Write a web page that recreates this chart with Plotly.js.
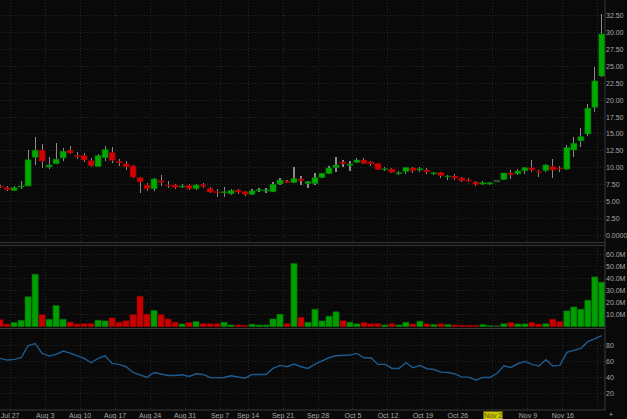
<!DOCTYPE html>
<html><head><meta charset="utf-8">
<script src="https://cdn.plot.ly/plotly-3.0.1.min.js"></script>
<style>html,body{margin:0;padding:0;background:#090909;overflow:hidden}#chart{width:627px;height:419px;}</style>
</head><body><div id="chart"></div>
<script>
// ---- data (one entry per trading day) ----
const openP  = [7.3,7.05,6.65,7.15,7.3,11.55,12.6,10.1,10.6,11.45, 12.6,11.85,11.8,11.05,10.2,11.5,12.25,10.95,10.6,10.25, 8.53,7.44,6.9,8.08,7.44,7.44,7.15,7.4,6.9,7.5, 6.95,6.45,6.3,6.15,6.7,6.45,6.1,6.6,6.55,6.45, 7.59,8.03,7.83,8.33,7.69,7.69,8.57,9.17,10.05,10.84, 10.35,10.8,11.14,10.84,10.65,9.71,9.81,9.12,9.46,9.96, 9.66,9.66,9.1,9.3,8.67,8.77,8.48,8.18,7.88,7.59, 7.59,7.88,8.28,9.22,9.12,9.56,10.0,9.41,9.61,10.2, 9.96,9.8,12.62,14.0,15.0,18.94,23.58];
const highP  = [7.4,7.25,7.25,8.1,12.6,14.55,13.5,11.55,13.7,12.9, 13.2,12.3,12.2,11.45,12.0,13.2,13.0,11.3,10.95,10.35, 8.68,7.74,8.48,8.92,8.08,7.6,7.6,7.64,7.64,7.74, 7.2,6.85,7.2,6.8,6.9,6.55,6.8,6.95,6.95,7.95, 8.43,8.2,10.05,8.77,8.08,9.27,9.27,10.25,11.53,11.14, 10.99,11.49,11.39,11.04,10.75,10.05,9.91,9.46,10.15,10.1, 10.1,9.91,9.41,9.43,8.95,9.07,8.67,8.53,8.03,8.03, 7.93,8.25,9.3,9.61,9.81,10.15,11.09,9.71,10.55,11.24, 10.2,13.37,14.6,15.93,19.4,24.86,32.7];
const lowP   = [7.05,6.5,6.5,6.85,7.3,10.45,9.95,9.85,10.5,10.95, 12.0,11.25,10.85,10.05,10.1,10.95,10.65,10.3,9.7,8.53, 6.26,6.5,6.5,7.24,7.0,6.9,7.0,6.75,6.75,7.0, 6.2,5.7,5.7,6.0,6.1,5.85,5.95,6.45,6.2,6.35, 7.44,7.7,7.69,7.44,6.95,7.44,8.43,9.02,9.41,10.05, 9.56,10.75,10.5,10.25,9.66,9.51,9.17,8.87,9.02,9.17, 9.41,9.05,8.9,8.5,8.2,8.2,7.83,7.83,7.3,7.44, 7.44,7.85,8.2,8.28,8.92,9.02,9.41,8.67,9.41,8.43, 9.32,9.65,11.63,13.12,14.7,18.3,23.4];
const closeP = [7.15,6.75,7.05,7.3,11.2,12.6,11.0,10.4,11.25,12.43, 12.2,11.65,11.15,10.3,11.8,12.7,11.1,10.75,10.15,8.63, 7.93,6.9,8.33,7.84,7.34,7.1,7.3,6.9,7.44,7.25, 6.4,6.3,6.45,6.65,6.4,6.1,6.6,6.75,6.7,7.55, 8.18,7.83,8.43,8.08,7.93,8.53,9.17,9.96,10.4,10.6, 10.55,11.14,10.65,10.6,9.76,9.86,9.32,9.27,10.05,9.56, 9.86,9.4,9.27,8.85,8.8,8.48,8.08,8.03,7.54,7.79, 7.79,8.18,9.22,8.97,9.51,10.0,9.66,9.32,10.4,9.66, 9.86,13.0,13.62,14.6,18.8,22.84,29.79];
const volumeM = [6.0,2.1,3.5,5.4,24.9,43.7,10.1,6.2,17.7,6.2, 4.0,2.4,2.6,2.6,5.4,4.9,7.4,3.8,5.1,10.1, 25.4,10.4,13.5,10.1,6.5,3.8,2.4,3.5,4.3,2.6, 2.6,2.6,3.8,1.5,1.5,1.2,2.1,1.5,1.5,6.5, 10.4,2.6,52.6,7.9,3.8,14.6,4.9,8.75,12.4,5.1, 3.8,2.4,3.5,2.6,2.6,1.5,2.6,1.5,3.8,2.4, 4.6,2.4,1.8,2.6,1.8,1.5,1.2,1.2,1.2,1.8, 0.9,1.0,2.6,3.5,2.4,2.4,3.5,2.1,2.6,6.2, 4.3,13.2,16.5,14.6,22.1,41.5,37.1];
const rsi = [64.2,62.1,63,65,80,82.5,70.4,67.1,69.2,73.3, 70.8,67.9,64.2,58.8,64.2,67.5,57.9,56.7,53.8,46.7, 43.4,40.5,46.7,45,42.9,42.9,43.8,41.7,45,44.2, 40.5,40,40.5,42.5,40.9,39.6,44.2,44.2,44.2,51.7, 55.5,53.8,57.1,53.8,51.7,57.1,60.9,65,67.5,68.4, 68.4,70.4,65,65,56.7,57.1,51.7,51.7,58.8,52.5, 55.5,51.3,50.4,47.1,46.7,45,40.9,40.9,37.1,40.5, 40.5,45.4,55,52.9,57.5,60.4,56.7,54.6,62.5,54.6, 55.5,71.7,73.8,76.7,85,89.2,92.5];
// weekly date labels and the trading-day index of each labelled week
const weekLabels = ['Jul 27','Aug 3','Aug 10','Aug 17','Aug 24','Aug 31','Sep 7','Sep 14','Sep 21','Sep 28','Oct 5','Oct 12','Oct 19','Oct 26','Nov 2','Nov 9','Nov 16','Nov 23'];
const weekBars   = [2,7,12,17,22,27,32,36,41,46,51,56,61,66,71,76,81,86];
const priceTicks = [0,2.5,5,7.5,10,12.5,15,17.5,20,22.5,25,27.5,30,32.5];
const volTicks = [10,20,30,40,50,60];
const rsiTicks = [20,40,60,80];
const selectedBar = 71;  // highlighted (Nov 2)

// ---- build ----
const idx = openP.map((_, i) => i);
const isUp = idx.map(i => closeP[i] >= openP[i]);
const G = '#00a800', GE = '#007a00', R = '#d20000', RE = '#8e0000', SEL = '#2e5a2e', SELE='#1f3d1f';
const bodyCol = idx.map(i => i === selectedBar ? SEL : (isUp[i] ? G : R));
const bodyEdge = idx.map(i => i === selectedBar ? SELE : (isUp[i] ? GE : RE));
const volCol = idx.map(i => i === selectedBar ? SEL : (isUp[i] ? '#009e00' : '#c80000'));
const volEdge = idx.map(i => i === selectedBar ? SELE : (isUp[i] ? '#006e00' : '#8a0000'));

const wicks = {type:'bar', x: idx, base: lowP, y: idx.map(i => highP[i]-lowP[i]), width: 0.15,
  marker:{color:'#8a8a8a', line:{width:0}}, xaxis:'x', yaxis:'y', hoverinfo:'skip', showlegend:false};
const bodies = {type:'bar', x: idx, base: idx.map(i => Math.min(openP[i], closeP[i])),
  y: idx.map(i => Math.max(Math.abs(closeP[i]-openP[i]), 0.12)), width: 0.86,
  marker:{color: bodyCol, line:{color: bodyEdge, width: 0.6}}, xaxis:'x', yaxis:'y', showlegend:false};
const vol = {type:'bar', x: idx, y: volumeM, width: 0.88,
  marker:{color: volCol, line:{color: volEdge, width: 0.6}}, xaxis:'x', yaxis:'y2', showlegend:false};
const rsiLine = {type:'scatter', mode:'lines', x: idx, y: rsi, line:{color:'#1d5b8f', width:1.4},
  xaxis:'x', yaxis:'y3', showlegend:false};

const H = 419, plotH = 410;
const dom = (top, bot) => [1 - bot/plotH, 1 - top/plotH];
const tickFont = {family:'Liberation Sans, Arial, sans-serif', size:7, color:'#a8a8a8'};
const gridC = '#262626', gridDash = '1px,2px';
const yCommon = {side:'right', anchor:'x', showgrid:true, gridcolor:gridC, griddash:gridDash, gridwidth:1,
  zeroline:false, showline:false, ticks:'', tickfont:tickFont, fixedrange:true};
const tickPos = weekBars.map(b => b - 0.57);
const tickText = weekLabels.map((t, i) => i === weekLabels.length - 1 ? '' : t);

const layout = {
  width:627, height:H, margin:{l:0, r:22, t:0, b:H-plotH, pad:0},
  paper_bgcolor:'#090909', plot_bgcolor:'#090909', barmode:'overlay', bargap:0,
  showlegend:false, font:tickFont,
  xaxis:{anchor:'y3', range:[-0.02, 86.45], tickmode:'array', tickvals: tickPos, ticktext: tickText,
    showgrid:true, gridcolor:gridC, griddash:gridDash, zeroline:false, showline:false, ticks:'',
    tickfont:tickFont, ticklabelstandoff:0},
  yaxis: Object.assign({}, yCommon, {domain: dom(0, 242.6), range:[-1.07, 34.82], tickmode:'array',
    tickvals: priceTicks, ticktext: priceTicks.map(v => v === 0 ? '0.0000' : v.toFixed(2))}),
  yaxis2: Object.assign({}, yCommon, {domain: dom(245.4, 327.5), range:[-0.6, 67.7], tickmode:'array',
    tickvals: volTicks, ticktext: volTicks.map(v => v.toFixed(1) + 'M')}),
  yaxis3: Object.assign({}, yCommon, {domain: dom(329.6, 410), range:[0, 100], tickmode:'array',
    tickvals: rsiTicks, ticktext: rsiTicks.map(String)}),
  shapes: [
    {type:'line', xref:'paper', yref:'paper', x0:0, x1:1, y0:1-242.6/plotH, y1:1-242.6/plotH, line:{color:'#3a3a3a', width:1}},
    {type:'line', xref:'paper', yref:'paper', x0:0, x1:1, y0:1-245.4/plotH, y1:1-245.4/plotH, line:{color:'#3a3a3a', width:1}},
    {type:'line', xref:'paper', yref:'paper', x0:0, x1:1, y0:1-328.5/plotH, y1:1-328.5/plotH, line:{color:'#3a3a3a', width:1}},
    {type:'line', xref:'paper', yref:'paper', x0:0, x1:1, y0:0, y1:0, line:{color:'#3a3a3a', width:1}},
    {type:'line', xref:'paper', yref:'paper', x0:1, x1:1, y0:0, y1:1, line:{color:'#3a3a3a', width:1}}
  ],
  annotations: [
    {xref:'x', yref:'paper', x: tickPos[weekLabels.indexOf('Nov 2')], y:0, yanchor:'top', yshift:-1,
     text:'Nov 2', showarrow:false, bgcolor:'#c9c400', borderpad:0, font:{family:tickFont.family, size:7, color:'#5a5a00'}},
    {xref:'paper', yref:'paper', x:1, y:0, xanchor:'left', yanchor:'middle', xshift:2, yshift:-4,
     text:'+', showarrow:false, font:{family:tickFont.family, size:7, color:'#a8a8a8'}}
  ]
};
Plotly.newPlot('chart', [wicks, bodies, vol, rsiLine], layout, {displayModeBar:false, staticPlot:true});
</script></body></html>
